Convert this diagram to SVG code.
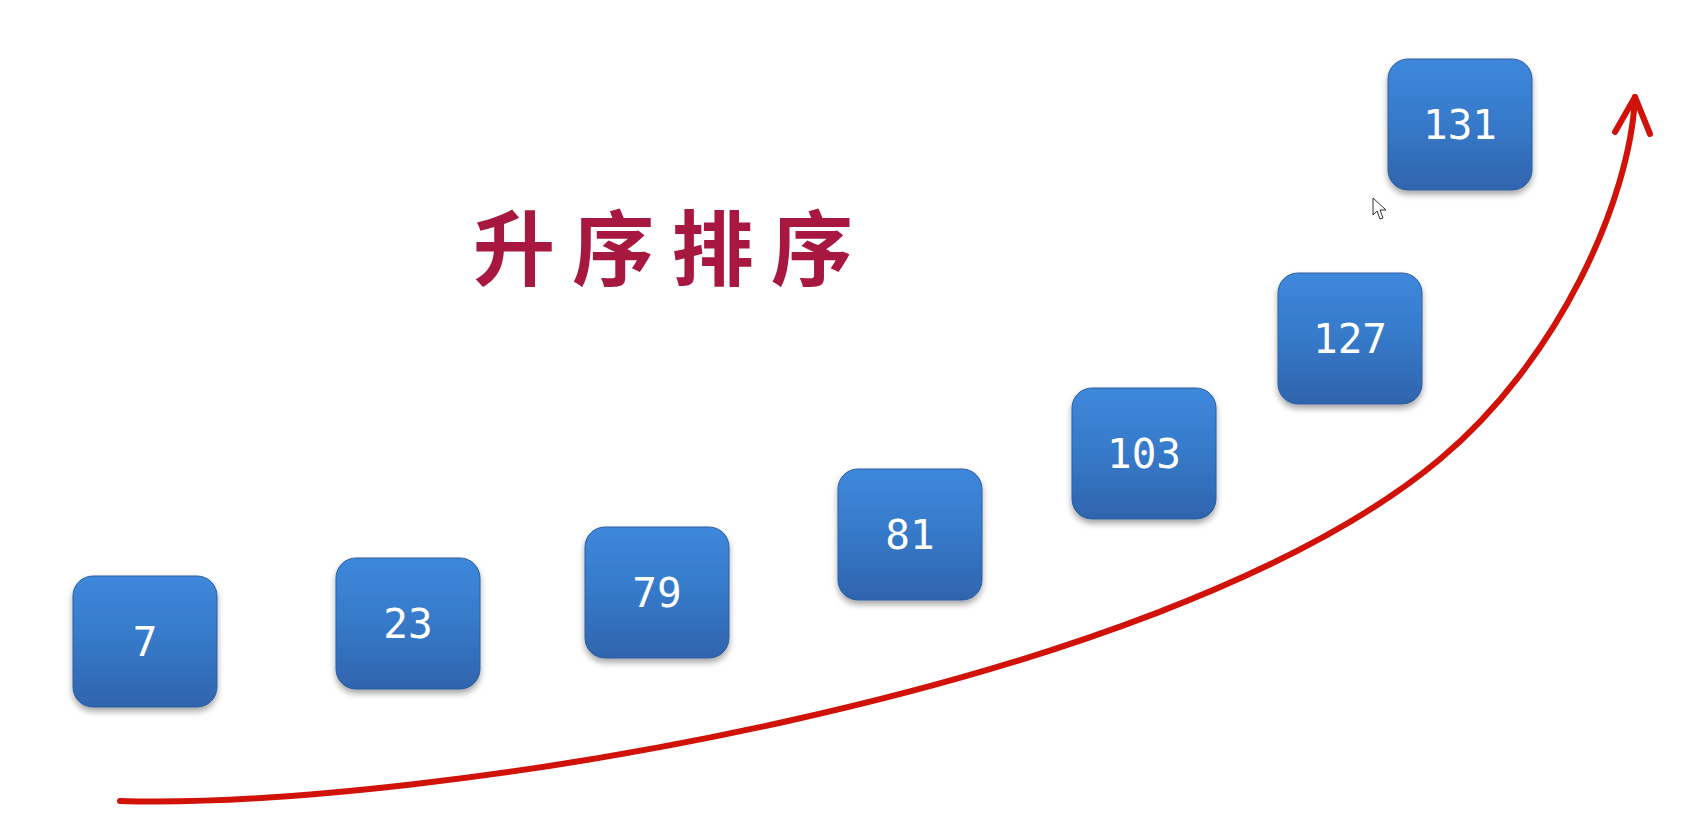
<svg xmlns="http://www.w3.org/2000/svg" width="1690" height="827" viewBox="0 0 1690 827">
<style>
.box{fill:url(#bg);stroke:#2c5e9e;stroke-width:1;filter:url(#sh)}
.num{font-family:"DejaVu Sans Mono","Liberation Mono",monospace;font-size:41px;fill:#ffffff;text-anchor:middle}
.title{font-family:"Noto Sans CJK SC","Noto Sans",sans-serif;font-size:82px;font-weight:700;fill:#a8173f}
.curve{fill:none;stroke:#d01208;stroke-width:6;stroke-linecap:round;stroke-linejoin:round}
</style>
<defs>
<linearGradient id="bg" x1="0" y1="0" x2="0" y2="1">
<stop offset="0" stop-color="#3f88dc"/>
<stop offset="0.5" stop-color="#3679c9"/>
<stop offset="1" stop-color="#2f64ad"/>
</linearGradient>
<filter id="sh" x="-20%" y="-20%" width="140%" height="150%">
<feDropShadow dx="0" dy="4" stdDeviation="3" flood-color="#000" flood-opacity="0.35"/>
</filter>
</defs>
<rect width="1690" height="827" fill="#ffffff"/>
<text class="title" x="473" y="279" textLength="380" lengthAdjust="spacing">升序排序</text>
<g id="n7"><rect class="box" x="73" y="576" width="144" height="131" rx="20"/><text class="num" x="145" y="656">7</text></g>
<g id="n23"><rect class="box" x="336" y="558" width="144" height="131" rx="20"/><text class="num" x="408" y="638">23</text></g>
<g id="n79"><rect class="box" x="585" y="527" width="144" height="131" rx="20"/><text class="num" x="657" y="607">79</text></g>
<g id="n81"><rect class="box" x="838" y="469" width="144" height="131" rx="20"/><text class="num" x="910" y="549">81</text></g>
<g id="n103"><rect class="box" x="1072" y="388" width="144" height="131" rx="20"/><text class="num" x="1144" y="468">103</text></g>
<g id="n127"><rect class="box" x="1278" y="273" width="144" height="131" rx="20"/><text class="num" x="1350" y="353">127</text></g>
<g id="n131"><rect class="box" x="1388" y="59" width="144" height="131" rx="20"/><text class="num" x="1460" y="139">131</text></g>
<g id="connectors">
<path class="curve" d="M120,801 C420,810 1159,693 1439,460 C1559,360 1630,200 1635,97"/>
<path class="curve" d="M1615,132 L1635,97 L1650,134"/>
</g>
<path d="M1373,198 L1373,215 L1377,211 L1380,219 L1383,218 L1380,210 L1386,210 Z" fill="#ffffff" stroke="#333" stroke-width="1"/>
</svg>
